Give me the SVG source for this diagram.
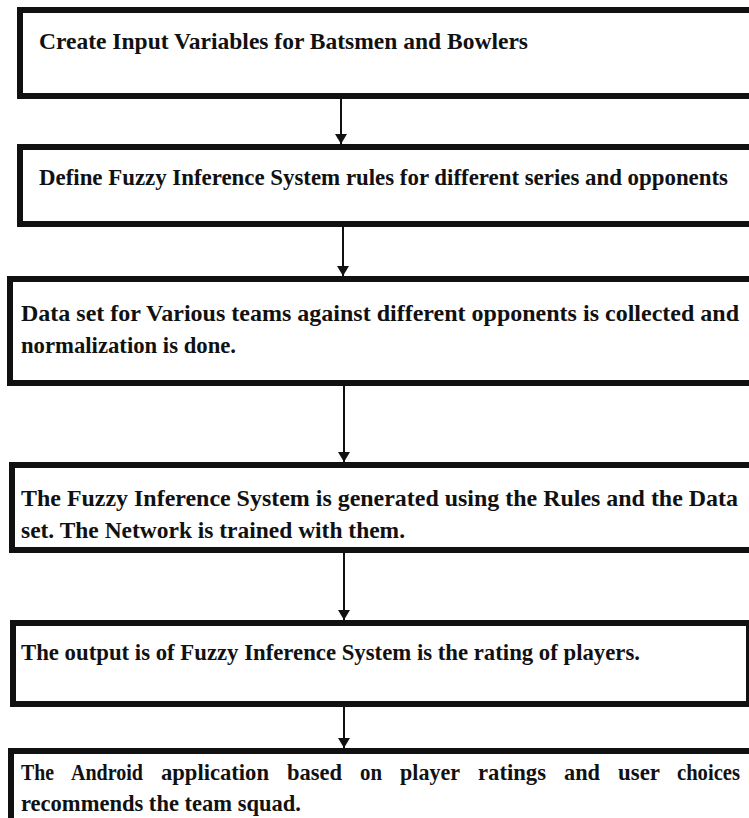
<svg xmlns="http://www.w3.org/2000/svg" width="749" height="818" viewBox="0 0 749 818">
  <defs>
    <marker id="arrowhead" viewBox="0 0 10 12" refX="10" refY="6" markerWidth="10" markerHeight="12" markerUnits="userSpaceOnUse" orient="auto">
      <path d="M0,0 L10,6 L0,12 Z" fill="#111"/>
    </marker>
  </defs>
  <style>
    .box { fill: #ffffff; stroke: #111; stroke-width: 6; }
    .label { font-family: "Liberation Serif", "Times New Roman", Tinos, serif; font-weight: bold; font-size: 24px; fill: #111; }
    .link { stroke: #111; stroke-width: 2; fill: none; marker-end: url(#arrowhead); }
  </style>
  <rect width="749" height="818" fill="#ffffff"/>

  <g id="step-input-variables">
    <rect class="box" x="20" y="10" width="732" height="86"/>
    <text class="label" x="39" y="49" textLength="489" lengthAdjust="spacingAndGlyphs">Create Input Variables for Batsmen and Bowlers</text>
  </g>

  <g id="step-fis-rules">
    <rect class="box" x="20" y="147" width="732" height="77"/>
    <text class="label" x="39" y="185" textLength="689" lengthAdjust="spacingAndGlyphs">Define Fuzzy Inference System rules for different series and opponents</text>
  </g>

  <g id="step-data-set">
    <rect class="box" x="10" y="279" width="742" height="104"/>
    <text class="label" x="21" y="321" textLength="718" lengthAdjust="spacingAndGlyphs">Data set for Various teams against different opponents is collected and</text>
    <text class="label" x="21" y="353" textLength="215" lengthAdjust="spacingAndGlyphs">normalization is done.</text>
  </g>

  <g id="step-fis-training">
    <rect class="box" x="12" y="465" width="740" height="85"/>
    <text class="label" x="21" y="506" textLength="717" lengthAdjust="spacingAndGlyphs">The Fuzzy Inference System is generated using the Rules and the Data</text>
    <text class="label" x="21" y="538" textLength="384" lengthAdjust="spacingAndGlyphs">set. The Network is trained with them.</text>
  </g>

  <g id="step-player-rating">
    <rect class="box" x="13" y="623" width="736" height="81"/>
    <text class="label" x="21" y="660" textLength="619" lengthAdjust="spacingAndGlyphs">The output is of Fuzzy Inference System is the rating of players.</text>
  </g>

  <g id="step-team-squad">
    <rect class="box" x="11" y="751" width="741" height="90"/>
    <!-- justified first line: words spread across the full width -->
    <text class="label" y="780" x="21" textLength="33" lengthAdjust="spacingAndGlyphs">The</text>
    <text class="label" y="780" x="71" textLength="72" lengthAdjust="spacingAndGlyphs">Android</text>
    <text class="label" y="780" x="161" textLength="108" lengthAdjust="spacingAndGlyphs">application</text>
    <text class="label" y="780" x="287" textLength="55" lengthAdjust="spacingAndGlyphs">based</text>
    <text class="label" y="780" x="360" textLength="22" lengthAdjust="spacingAndGlyphs">on</text>
    <text class="label" y="780" x="400" textLength="60" lengthAdjust="spacingAndGlyphs">player</text>
    <text class="label" y="780" x="478" textLength="68" lengthAdjust="spacingAndGlyphs">ratings</text>
    <text class="label" y="780" x="564" textLength="36" lengthAdjust="spacingAndGlyphs">and</text>
    <text class="label" y="780" x="618" textLength="42" lengthAdjust="spacingAndGlyphs">user</text>
    <text class="label" y="780" x="677" textLength="63" lengthAdjust="spacingAndGlyphs">choices</text>
    <text class="label" x="21" y="811" textLength="280" lengthAdjust="spacingAndGlyphs">recommends the team squad.</text>
  </g>

  <g id="connectors">
    <line class="link" x1="341" y1="99" x2="341" y2="144"/>
    <line class="link" x1="343" y1="227" x2="343" y2="276"/>
    <line class="link" x1="344" y1="386" x2="344" y2="462"/>
    <line class="link" x1="344" y1="553" x2="344" y2="620"/>
    <line class="link" x1="344" y1="707" x2="344" y2="748"/>
  </g>
</svg>
